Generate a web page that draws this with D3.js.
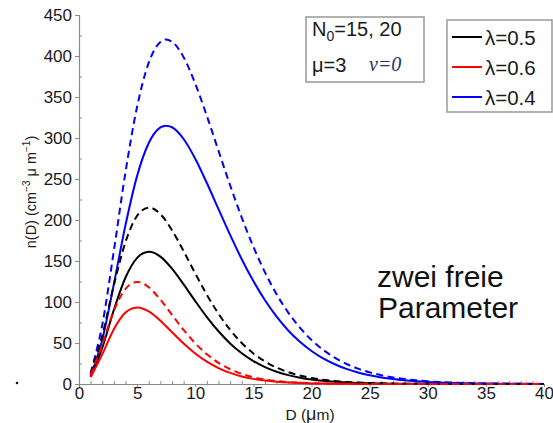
<!DOCTYPE html>
<html>
<head>
<meta charset="utf-8">
<script src="https://cdn.jsdelivr.net/npm/d3@7"></script>
<style>
body { margin: 0; background: #fff; }
text { font-family: "Liberation Sans", Arial, sans-serif; }
</style>
</head>
<body>
<svg id="chart" width="553" height="423"></svg>
<script>
// diameters D (µm)
const diameters = [1,2,3,4,5,6,7,8,9,10,11,12,13,14,15,16,17,18,19,20,
	21,22,23,24,25,26,27,28,29,30,31,32,33,34,35,36,37,38,39,40];

// lambda = 0.5, N0 = 15 (solid) / 20 (dashed)
const black15 = [9.1,44.1,90.4,129.9,153.9,161.3,155.4,140.7,121.5,101.1,81.6,64.3,49.5,37.5,28.0,20.6,15.0,10.8,7.7,5.45,
	3.83,2.67,1.85,1.27,0.87,0.6,0.4,0.27,0.18,0.12,0.08,0.06,0.04,0.02,0.02,0.01,0.01,0,0,0];
const black20 = [12.1,58.9,120.5,173.2,205.2,215.1,207.2,187.6,162.0,134.8,108.8,85.7,66.1,50.0,37.3,27.5,20.0,14.4,10.3,7.26,
	5.1,3.56,2.47,1.7,1.16,0.79,0.54,0.37,0.25,0.17,0.11,0.07,0.05,0.03,0.02,0.01,0.01,0.01,0,0];

// lambda = 0.6
const red15 = [8.2,36.1,66.9,87.1,93.4,88.5,77.2,63.2,49.4,37.2,27.2,19.4,13.5,9.26,6.25,4.16,2.74,1.78,1.15,0.74,
	0.47,0.3,0.19,0.12,0.07,0.04,0.03,0.02,0.01,0.01,0,0,0,0,0,0,0,0,0,0];
const red20 = [11.0,48.2,89.3,116.1,124.5,118.0,102.9,84.3,65.9,49.6,36.2,25.8,18.0,12.3,8.33,5.55,3.65,2.38,1.54,0.98,
	0.62,0.39,0.25,0.15,0.1,0.06,0.04,0.02,0.01,0.01,0,0,0,0,0,0,0,0,0,0];

// lambda = 0.4
const blue15 = [10.1,53.9,122.0,193.8,253.8,293.9,312.9,313.1,298.8,274.7,245.1,213.3,181.8,152.2,125.5,102.1,82.1,65.3,51.5,40.3,
	31.2,24.1,18.4,14.0,10.6,8.02,6.02,4.5,3.35,2.49,1.84,1.36,1.0,0.73,0.53,0.39,0.28,0.21,0.15,0.11];
const blue20 = [13.4,71.9,162.6,258.4,338.4,391.9,417.2,417.4,398.4,366.3,326.8,284.4,242.4,202.9,167.3,136.1,109.4,87.1,68.7,53.7,
	41.7,32.1,24.6,18.7,14.2,10.7,8.03,6.0,4.47,3.32,2.45,1.81,1.33,0.98,0.71,0.52,0.38,0.27,0.2,0.14];

const lambdaLabels = ["\u03bb=0.5", "\u03bb=0.6", "\u03bb=0.4"];
const xTicks = [0,5,10,15,20,25,30,35,40];
const yTicks = [0,50,100,150,200,250,300,350,400,450];

const colors = {black: "#000000", red: "#ff0000", blue: "#0000ff"};

const svg = d3.select("#chart");

const x = d3.scaleLinear().domain([0, 40]).range([79, 544]);
const y = d3.scaleLinear().domain([0, 450]).range([384, 15]);

//-----------------------------------------------------
// axes
const axisColor = "#8a8a8a";

const gy = svg.append("g").attr("transform", "translate(79,0)")
	.call(d3.axisLeft(y).tickValues(yTicks).tickSize(4).tickPadding(3));
const gyMinor = svg.append("g").attr("transform", "translate(79,0)")
	.call(d3.axisLeft(y).tickValues(d3.range(25, 450, 50)).tickSize(-3).tickFormat(""));

const gx = svg.append("g").attr("transform", "translate(0,384)")
	.call(d3.axisBottom(x).tickValues(xTicks).tickSize(3).tickPadding(0));
const gxMinor = svg.append("g").attr("transform", "translate(0,384)")
	.call(d3.axisBottom(x).tickValues(d3.range(1, 40).filter(d => d % 5)).tickSize(-3).tickFormat(""));

[gy, gyMinor, gx, gxMinor].forEach(g => {
	g.select(".domain").attr("stroke", axisColor).attr("stroke-width", 1.2);
	g.selectAll(".tick line").attr("stroke", axisColor);
	g.selectAll("text")
		.attr("fill", "#1a1a1a")
		.style("font-size", "17px")
		.style("font-family", '"Liberation Sans", Arial, sans-serif');
});
gyMinor.select(".domain").remove();
gxMinor.select(".domain").remove();
gx.selectAll(".tick text").attr("dy", "0.7em");

// axis titles
const xt = svg.append("text")
	.attr("x", 310).attr("y", 420)
	.attr("text-anchor", "middle")
	.style("font-size", "15.5px")
	.attr("fill", "#1a1a1a");
xt.append("tspan").text("D (");
xt.append("tspan").style("font-size", "18px").text("\u03bc");
xt.append("tspan").text("m)");

const yt = svg.append("text")
	.attr("transform", "translate(36,192) rotate(-90)")
	.attr("text-anchor", "middle")
	.style("font-size", "14.5px")
	.attr("fill", "#1a1a1a");
yt.append("tspan").text("n(D) (cm");
yt.append("tspan").attr("dy", -6).style("font-size", "10px").text("\u22123");
yt.append("tspan").attr("dy", 6).text(" \u03bc m");
yt.append("tspan").attr("dy", -6).style("font-size", "10px").text("\u22121");
yt.append("tspan").attr("dy", 6).text(")");

//-----------------------------------------------------
// curves
const line = d3.line()
	.x((d, i) => x(diameters[i]))
	.y(d => y(d))
	.curve(d3.curveCardinal.tension(0));

const curves = [
	{v: blue15, c: colors.blue, dash: null},
	{v: black15, c: colors.black, dash: null},
	{v: red15, c: colors.red, dash: null},
	{v: blue20, c: colors.blue, dash: "7,4.5"},
	{v: black20, c: colors.black, dash: "7,4.5"},
	{v: red20, c: colors.red, dash: "7,4.5"}
];

svg.selectAll(".curve")
	.data(curves)
	.enter()
	.append("path")
	.attr("class", "curve")
	.attr("d", d => line(d.v))
	.attr("fill", "none")
	.attr("stroke", d => d.c)
	.attr("stroke-width", 2)
	.attr("stroke-dasharray", d => d.dash);

//-----------------------------------------------------
// parameter box
svg.append("rect")
	.attr("x", 306).attr("y", 17).attr("width", 118).attr("height", 65)
	.attr("fill", "#fff").attr("stroke", "#999").attr("stroke-width", 1.5);

const p1 = svg.append("text").attr("x", 312).attr("y", 36)
	.style("font-size", "20px").attr("fill", "#1a1a1a");
p1.append("tspan").text("N");
p1.append("tspan").attr("dy", 5).style("font-size", "14px").text("0");
p1.append("tspan").attr("dy", -5).text("=15, 20");

svg.append("text").attr("x", 312).attr("y", 72)
	.style("font-size", "20px").attr("fill", "#1a1a1a")
	.text("\u03bc=3");

svg.append("text").attr("x", 369).attr("y", 71)
	.style("font-size", "20px")
	.style("font-family", '"Liberation Serif", "Times New Roman", serif')
	.style("font-style", "italic")
	.attr("fill", "#26306a")
	.text("\u03bd=0");

//-----------------------------------------------------
// legend
svg.append("rect")
	.attr("x", 447).attr("y", 20).attr("width", 105).attr("height", 92)
	.attr("fill", "#fff").attr("stroke", "#999").attr("stroke-width", 1.5);

const legendColors = [colors.black, colors.red, colors.blue];
const leg = svg.selectAll(".leg")
	.data(lambdaLabels)
	.enter()
	.append("g")
	.attr("class", "leg")
	.attr("transform", (d, i) => "translate(0," + (37 + i * 30) + ")");

leg.append("line")
	.attr("x1", 452).attr("x2", 482)
	.attr("stroke", (d, i) => legendColors[i])
	.attr("stroke-width", 2);

leg.append("text")
	.attr("x", 485).attr("y", 8)
	.style("font-size", "20.5px")
	.attr("fill", "#1a1a1a")
	.text(d => d);

//-----------------------------------------------------
// annotation
svg.append("text").attr("x", 377).attr("y", 287)
	.style("font-size", "30px").attr("fill", "#111")
	.text("zwei freie");
svg.append("text").attr("x", 378).attr("y", 318)
	.style("font-size", "30px").attr("fill", "#111")
	.text("Parameter");

// stray dot left of the axis
svg.append("circle").attr("cx", 17).attr("cy", 383).attr("r", 1.3).attr("fill", "#111");
</script>
</body>
</html>
